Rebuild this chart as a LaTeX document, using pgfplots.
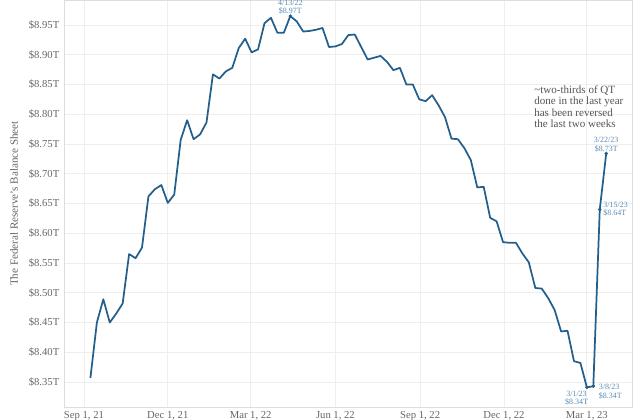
\documentclass[border=0pt]{standalone}
\usepackage{fontspec}
\setmainfont{Liberation Serif}
\usepackage{pgfplots}
\pgfplotsset{compat=1.18}
\usetikzlibrary{calc}

\definecolor{fedline}{HTML}{235F8C}
\definecolor{fedlabel}{HTML}{5A8AB5}
\definecolor{ticktext}{HTML}{666666}
\definecolor{notetext}{HTML}{555555}
\definecolor{gridc}{HTML}{EEEEEE}
\definecolor{framec}{HTML}{DDDDDD}

% weekly balance sheet, x = days since Sep 1, 2021
\pgfplotstableread{
day val
7 8.357
14 8.450
21 8.489
28 8.450
35 8.465
42 8.482
49 8.565
56 8.558
63 8.576
70 8.662
77 8.674
84 8.681
91 8.651
98 8.665
105 8.757
112 8.790
119 8.758
126 8.766
133 8.786
140 8.867
147 8.860
154 8.872
161 8.878
168 8.911
175 8.927
182 8.904
189 8.909
196 8.953
203 8.962
210 8.937
217 8.937
224 8.965
231 8.956
238 8.939
245 8.940
252 8.942
259 8.945
266 8.913
273 8.914
280 8.918
287 8.933
294 8.934
301 8.913
308 8.892
315 8.895
322 8.898
329 8.888
336 8.874
343 8.878
350 8.850
357 8.850
364 8.825
371 8.822
378 8.832
385 8.815
392 8.795
399 8.759
406 8.758
413 8.743
420 8.723
427 8.677
434 8.678
441 8.626
448 8.620
455 8.585
462 8.584
469 8.584
476 8.566
483 8.551
490 8.508
497 8.507
504 8.491
511 8.471
518 8.435
525 8.436
532 8.385
539 8.382
546 8.341
553 8.343
560 8.640
567 8.734
}\fedbs

\begin{document}
\begin{tikzpicture}
\begin{axis}[
    name=ax,
    scale only axis,
    width=426pt, height=305.25pt,
    xmin=-21.7, xmax=595,
    ymin=8.308, ymax=8.992,
    xtick={0,91,181,273,365,456,546},
    xticklabels={{Sep 1, 21},{Dec 1, 21},{Mar 1, 22},{Jun 1, 22},{Sep 1, 22},{Dec 1, 22},{Mar 1, 23}},
    ytick={8.35,8.40,8.45,8.50,8.55,8.60,8.65,8.70,8.75,8.80,8.85,8.90,8.95},
    yticklabels={\$8.35T,\$8.40T,\$8.45T,\$8.50T,\$8.55T,\$8.60T,\$8.65T,\$8.70T,\$8.75T,\$8.80T,\$8.85T,\$8.90T,\$8.95T},
    major tick length=0pt,
    tick label style={font=\fontsize{8}{9}\selectfont, text=ticktext},
    xmajorgrids, ymajorgrids,
    grid style={gridc, line width=0.6pt},
    axis line style={framec, line width=0.6pt},
    ylabel={The Federal Reserve's Balance Sheet},
    ylabel style={at={(axis description cs:-0.088,0.5)}, anchor=center,
        font=\fontsize{8.3}{9}\selectfont, text=ticktext},
    clip=false,
]
\addplot[fedline, line width=1.3pt, line join=round] table[x=day, y=val] {\fedbs};
\addplot[only marks, mark=*, mark size=1.1pt, fedline] coordinates {
    (224,8.965) (546,8.341) (553,8.343) (560,8.640) (567,8.734)};

\begin{scope}[every node/.style={font=\fontsize{6}{6.3}\selectfont, text=fedlabel, align=center, inner sep=1pt}]
\node[anchor=south] at (axis cs:224,8.965) {4/13/22\\\$8.97T};
\node[anchor=south] at (axis cs:567,8.734) {3/22/23\\\$8.73T};
\node[anchor=west, align=left, xshift=1.5pt] at (axis cs:560,8.640) {3/15/23\\\$8.64T};
\node[anchor=north east, xshift=2pt, yshift=-1.5pt] at (axis cs:546,8.341) {3/1/23\\\$8.34T};
\node[anchor=north west, align=left, xshift=3pt, yshift=2.5pt] at (axis cs:553,8.343) {3/8/23\\\$8.34T};
\end{scope}
\node[anchor=north west, align=left, inner sep=0pt, text=notetext,
      font=\fontsize{8.3}{8.7}\selectfont] at (axis cs:488.6,8.849)
    {\textasciitilde two-thirds of QT\\done in the last year\\has been reversed\\the last two weeks};
\end{axis}
\pgfresetboundingbox
\path ($(ax.south west)+(-48pt,-9.75pt)$) rectangle ($(ax.north east)+(6pt,0pt)$);
\end{tikzpicture}
\end{document}
